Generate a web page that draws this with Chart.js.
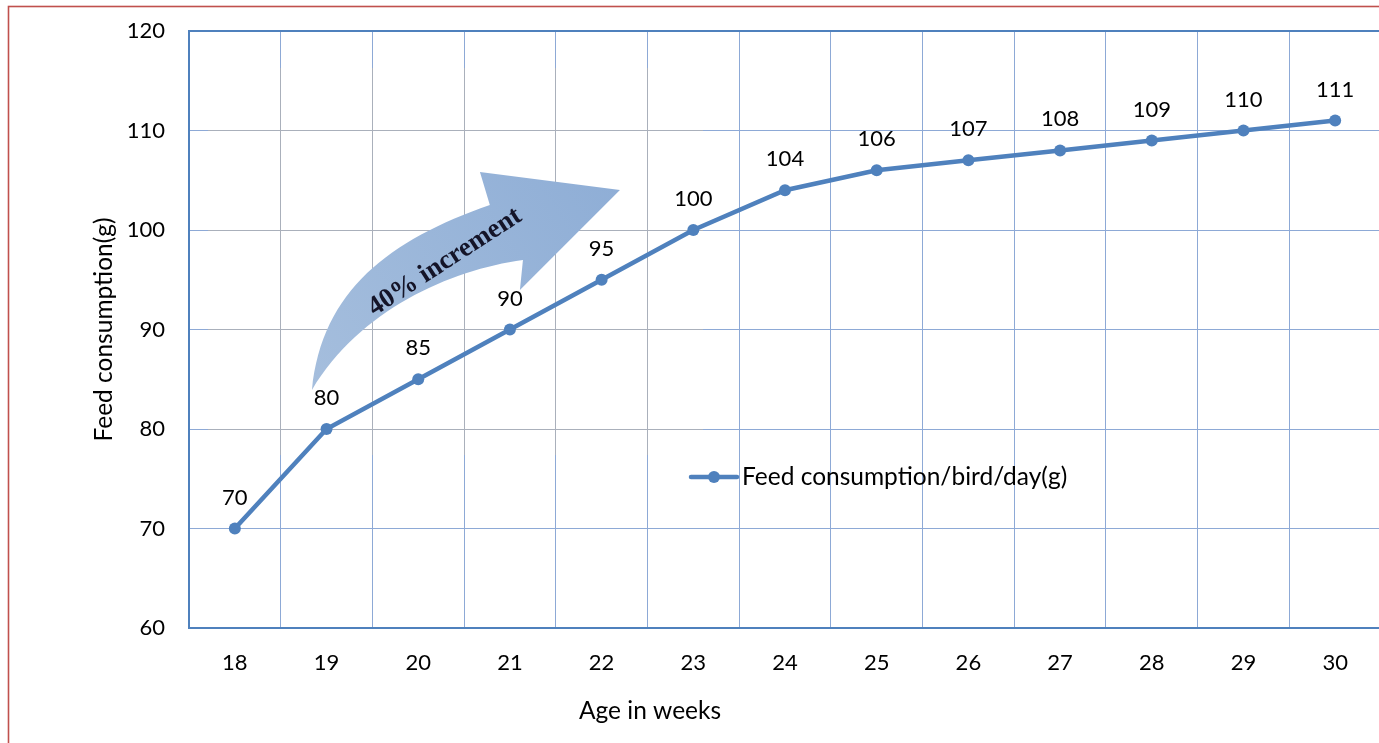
<!DOCTYPE html>
<html>
<head>
<meta charset="utf-8">
<title>Feed consumption by age</title>
<script src="https://cdn.jsdelivr.net/npm/chart.js@4.4.1/dist/chart.umd.min.js"></script>
<style>
  html, body { margin: 0; padding: 0; background: #fff; overflow: hidden; }
  #wrap { width: 1392px; height: 743px; }
</style>
</head>
<body>
<div id="wrap"><canvas id="c" width="1392" height="743"></canvas></div>
<script>
// Age (weeks) and average feed consumption per bird per day (g)
const weeks = ['18', '19', '20', '21', '22', '23', '24', '25', '26', '27', '28', '29', '30'];
const feedPerBird = [70, 80, 85, 90, 95, 100, 104, 106, 107, 108, 109, 110, 111];
const seriesName = 'Feed consumption/bird/day(g)';
const yMin = 60, yMax = 120, yStep = 10;
const xTitle = 'Age in weeks';
const yTitle = 'Feed consumption(g)';
const arrowText = '40% increment';

const FONT = 'Lato, "Noto Sans", sans-serif';
const BLUE = '#4F81BD';
const GRID = '#8DA9D6';

// Curved "increment" arrow, expressed in (category index, value) space
const arrowShape = {
  tail: [0.841, 83.92],
  upper: [[0.950, 93.97], [1.691, 99.0], [2.781, 102.51]],
  head: [[2.673, 105.83], [4.200, 104.02], [3.109, 93.97], [3.142, 96.98]],
  lower: [[2.346, 95.98], [1.364, 91.96], [0.841, 83.92]],
  label: [2.291, 96.78],
  haze: [-0.293, 116.28, 5.105, 77.39]
};

const decorations = {
  id: 'decorations',
  beforeDraw(chart) {
    const ctx = chart.ctx;
    ctx.save();
    ctx.fillStyle = '#fff';
    ctx.fillRect(0, 0, chart.width, chart.height);
    // outer frame
    ctx.strokeStyle = '#C0504D';
    ctx.lineWidth = 1.6;
    ctx.strokeRect(8.5, 6.5, chart.width + 50, chart.height + 50);
    ctx.restore();
  },
  beforeDatasetsDraw(chart) {
    const ctx = chart.ctx;
    const xs = chart.scales.x, ys = chart.scales.y;
    const P = (p) => [xs.getPixelForValue(p[0]), ys.getPixelForValue(p[1])];
    const a = chart.chartArea;

    // softened area behind the arrow picture
    const h = arrowShape.haze;
    const hx0 = xs.getPixelForValue(h[0]), hy0 = ys.getPixelForValue(h[1]);
    const hx1 = xs.getPixelForValue(h[2]), hy1 = ys.getPixelForValue(h[3]);
    ctx.save();
    ctx.globalCompositeOperation = 'saturation';
    ctx.fillStyle = 'rgba(128,128,128,0.75)';
    ctx.fillRect(hx0, hy0, hx1 - hx0, hy1 - hy0);
    ctx.globalCompositeOperation = 'source-over';
    ctx.fillStyle = 'rgba(255,255,255,0.12)';
    ctx.fillRect(hx0, hy0, hx1 - hx0, hy1 - hy0);
    ctx.restore();

    // plot border
    ctx.save();
    ctx.strokeStyle = BLUE;
    ctx.lineWidth = 2;
    ctx.strokeRect(a.left, a.top, a.right - a.left, a.bottom - a.top);
    ctx.restore();

    // arrow
    const t = P(arrowShape.tail);
    const u = arrowShape.upper.map(P);
    const hd = arrowShape.head.map(P);
    const lo = arrowShape.lower.map(P);
    ctx.save();
    const g = ctx.createLinearGradient(t[0], t[1], hd[1][0], hd[1][1]);
    g.addColorStop(0, '#A5BEDD');
    g.addColorStop(1, '#8FAED6');
    ctx.fillStyle = g;
    ctx.beginPath();
    ctx.moveTo(t[0], t[1]);
    ctx.bezierCurveTo(u[0][0], u[0][1], u[1][0], u[1][1], u[2][0], u[2][1]);
    hd.forEach(p => ctx.lineTo(p[0], p[1]));
    ctx.bezierCurveTo(lo[0][0], lo[0][1], lo[1][0], lo[1][1], lo[2][0], lo[2][1]);
    ctx.closePath();
    ctx.fill();

    const lp = P(arrowShape.label);
    ctx.translate(lp[0], lp[1]);
    ctx.rotate(-33 * Math.PI / 180);
    ctx.font = 'bold 27px "Liberation Serif", "DejaVu Serif", serif';
    ctx.fillStyle = '#141428';
    ctx.textAlign = 'center';
    ctx.textBaseline = 'middle';
    ctx.fillText(arrowText, 0, 0);
    ctx.restore();
  },
  afterDatasetsDraw(chart) {
    const ctx = chart.ctx;
    const meta = chart.getDatasetMeta(0);
    const ds = chart.data.datasets[0];
    ctx.save();
    ctx.font = '22px ' + FONT;
    ctx.fillStyle = '#000';
    ctx.textAlign = 'center';
    ctx.textBaseline = 'middle';
    meta.data.forEach((pt, i) => {
      ctx.fillText(String(ds.data[i]), pt.x, pt.y - 31);
    });

    // axis titles
    ctx.font = '24.5px ' + FONT;
    ctx.fillText(xTitle, 650, 711);
    ctx.save();
    ctx.translate(104, (chart.chartArea.top + chart.chartArea.bottom) / 2);
    ctx.rotate(-Math.PI / 2);
    ctx.fillText(yTitle, 0, 0);
    ctx.restore();

    // legend
    const lx = 691, ly = 477;
    ctx.strokeStyle = ds.borderColor;
    ctx.lineWidth = ds.borderWidth;
    ctx.lineCap = 'round';
    ctx.beginPath();
    ctx.moveTo(lx, ly);
    ctx.lineTo(lx + 46, ly);
    ctx.stroke();
    ctx.fillStyle = ds.pointBackgroundColor;
    ctx.beginPath();
    ctx.arc(lx + 23, ly, ds.pointRadius, 0, Math.PI * 2);
    ctx.fill();
    ctx.fillStyle = '#000';
    ctx.textAlign = 'left';
    ctx.fillText(ds.label, lx + 51, ly);
    ctx.restore();
  }
};

new Chart(document.getElementById('c'), {
  type: 'line',
  data: {
    labels: weeks,
    datasets: [{
      label: seriesName,
      data: feedPerBird,
      borderColor: BLUE,
      backgroundColor: BLUE,
      pointBackgroundColor: BLUE,
      pointBorderColor: BLUE,
      borderWidth: 4.5,
      pointRadius: 6,
      pointBorderWidth: 0,
      tension: 0,
      fill: false
    }]
  },
  options: {
    responsive: false,
    animation: false,
    events: [],
    layout: { padding: { top: 31, right: 11, left: 0, bottom: 0 } },
    plugins: {
      legend: { display: false },
      title: { display: false },
      tooltip: { enabled: false }
    },
    scales: {
      x: {
        type: 'category',
        offset: true,
        grid: { offset: true, color: GRID, lineWidth: 1, drawTicks: false },
        border: { display: false },
        ticks: { color: '#000', font: { family: FONT, size: 22 }, padding: 22, maxRotation: 0, autoSkip: false },
        afterFit(s) { s.height = 115; s.paddingLeft = 0; s.paddingRight = 0; }
      },
      y: {
        min: yMin,
        max: yMax,
        grid: { color: GRID, lineWidth: 1, drawTicks: false },
        border: { display: false },
        ticks: { stepSize: yStep, color: '#000', font: { family: FONT, size: 22 }, padding: 24 },
        afterFit(s) { s.width = 189; s.paddingTop = 0; s.paddingBottom = 0; }
      }
    }
  },
  plugins: [decorations]
});
</script>
</body>
</html>
